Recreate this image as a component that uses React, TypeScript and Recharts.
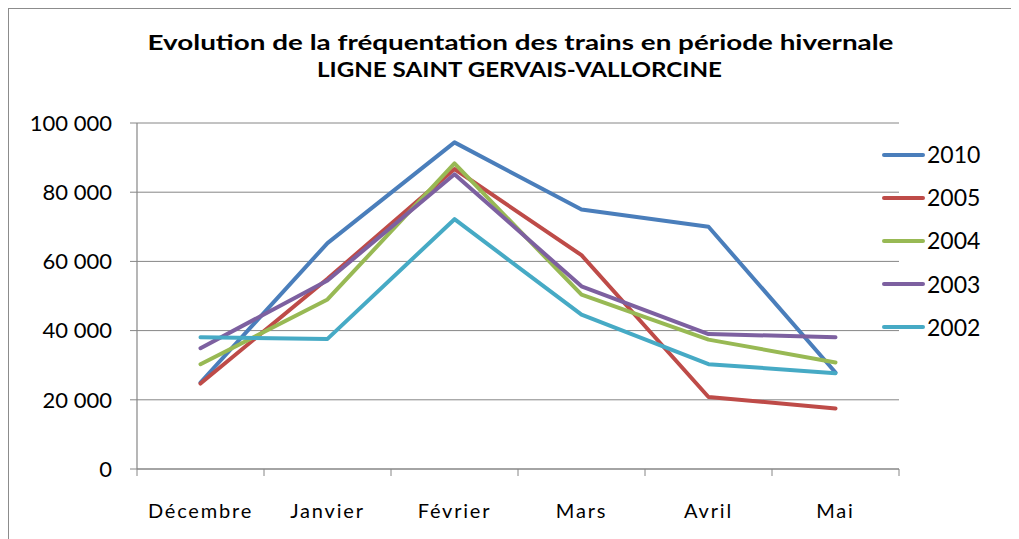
import React from 'react';
import { LineChart, Line, XAxis, YAxis, CartesianGrid } from 'recharts';

const CATEGORIES = ['Décembre', 'Janvier', 'Février', 'Mars', 'Avril', 'Mai'];
const SERIES_NAMES = ['2010', '2005', '2004', '2003', '2002'];
const V2010 = [25000, 65300, 94400, 75000, 70000, 27900];
const V2005 = [24700, 55000, 86700, 61800, 20800, 17500];
const V2004 = [30300, 49000, 88300, 50400, 37400, 30800];
const V2003 = [34900, 54500, 85200, 52800, 39000, 38100];
const V2002 = [38100, 37600, 72200, 44600, 30300, 27700];
const Y_TICKS = [0, 20000, 40000, 60000, 80000, 100000];
const TITLE_1 = 'Evolution de la fréquentation des trains en période hivernale';
const TITLE_2 = 'LIGNE SAINT GERVAIS-VALLORCINE';

const COLORS = ['#4A7EBB', '#BE4B48', '#98B954', '#7D60A0', '#46AAC5'];
const SERIES_VALUES = [V2010, V2005, V2004, V2003, V2002];

const data = CATEGORIES.map((cat, i) => {
  const row: Record<string, string | number> = { cat };
  SERIES_NAMES.forEach((name, s) => {
    row[name] = SERIES_VALUES[s][i];
  });
  return row;
});

const W = 1010;
const H = 530;
const MARGIN = { top: 114, right: 120, bottom: 0, left: 0 };
const Y_WIDTH = 128;
const X_HEIGHT = 70;
const PLOT_W = W - MARGIN.left - MARGIN.right - Y_WIDTH;
const HALF_BAND = PLOT_W / CATEGORIES.length / 2;
const AXIS_COLOR = '#868686';
const FONT = 'Lato, Calibri, "Open Sans", sans-serif';

const fmt = (v: number) => {
  const s = String(Math.round(v));
  return s.replace(/\B(?=(\d{3})+(?!\d))/g, ' ');
};

const XTick = (props: any) => {
  const { x, y, payload, index } = props;
  const last = index === CATEGORIES.length - 1;
  return (
    <g>
      <line x1={x - HALF_BAND} x2={x - HALF_BAND} y1={y} y2={y + 7} stroke={AXIS_COLOR} strokeWidth={1} />
      {last && (
        <line x1={x + HALF_BAND} x2={x + HALF_BAND} y1={y} y2={y + 7} stroke={AXIS_COLOR} strokeWidth={1} />
      )}
      <text
        x={x}
        y={y + 49}
        textAnchor="middle"
        fontFamily={FONT}
        fontSize={20}
        letterSpacing={1.8}
        fill="#000"
      >
        {payload.value}
      </text>
    </g>
  );
};

const LegendBox = () => (
  <div style={{ position: 'absolute', left: 873, top: 124, width: 130, fontFamily: FONT }}>
    {SERIES_NAMES.map((name, i) => (
      <div key={name} style={{ height: 43.2, display: 'flex', alignItems: 'center' }}>
        <svg width={44} height={8} style={{ display: 'block' }}>
          <line x1={2} x2={41} y1={4} y2={4} stroke={COLORS[i]} strokeWidth={4} strokeLinecap="round" />
        </svg>
        <span style={{ fontSize: 23, color: '#000', marginLeft: 1, lineHeight: 1 }}>{name}</span>
      </div>
    ))}
  </div>
);

export default function App() {
  return (
    <div
      style={{
        position: 'relative',
        width: W,
        height: H,
        borderLeft: '1px solid #8c8c8c',
        borderTop: '1px solid #8c8c8c',
        background: '#fff',
      }}
    >
      <svg
        width={W}
        height={100}
        style={{ position: 'absolute', left: 0, top: 0, pointerEvents: 'none' }}
      >
        <text
          x={511.5}
          y={41}
          textAnchor="middle"
          fontFamily={FONT}
          fontWeight="bold"
          fontSize={20}
          textLength={746}
          lengthAdjust="spacingAndGlyphs"
          fill="#000"
        >
          {TITLE_1}
        </text>
        <text
          x={510.5}
          y={68.3}
          textAnchor="middle"
          fontFamily={FONT}
          fontWeight="bold"
          fontSize={20}
          textLength={405}
          lengthAdjust="spacingAndGlyphs"
          fill="#000"
        >
          {TITLE_2}
        </text>
      </svg>
      <LineChart width={W} height={H} data={data} margin={MARGIN}>
        <CartesianGrid vertical={false} stroke={AXIS_COLOR} strokeWidth={1} />
        <XAxis
          dataKey="cat"
          height={X_HEIGHT}
          padding={{ left: HALF_BAND, right: HALF_BAND }}
          axisLine={{ stroke: AXIS_COLOR, strokeWidth: 1.2 }}
          tickLine={false}
          tickSize={0}
          tickMargin={0}
          interval={0}
          tick={<XTick />}
        />
        <YAxis
          width={Y_WIDTH}
          domain={[0, 100000]}
          ticks={Y_TICKS}
          tickFormatter={fmt}
          axisLine={{ stroke: AXIS_COLOR, strokeWidth: 1.2 }}
          tickLine={{ stroke: AXIS_COLOR }}
          tickSize={7}
          tickMargin={18}
          tick={{ fontFamily: FONT, fontSize: 22, fill: '#000' }}
          allowDataOverflow
        />
        {SERIES_NAMES.map((name, i) => (
          <Line
            key={name}
            type="linear"
            dataKey={name}
            name={name}
            stroke={COLORS[i]}
            strokeWidth={4}
            strokeLinecap="round"
            strokeLinejoin="round"
            dot={false}
            activeDot={false}
            isAnimationActive={false}
          />
        ))}
      </LineChart>
      <LegendBox />
    </div>
  );
}
